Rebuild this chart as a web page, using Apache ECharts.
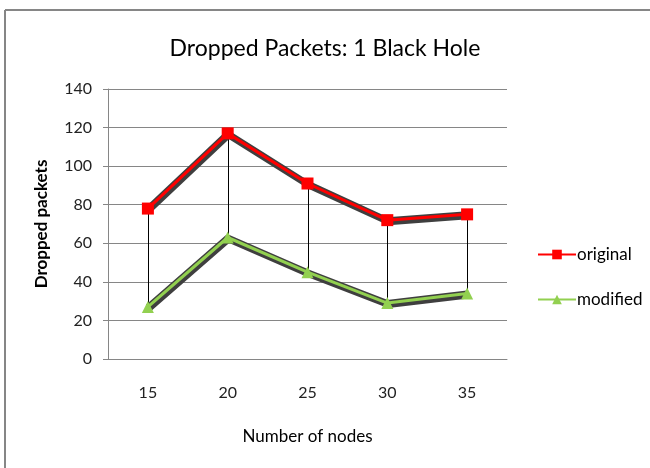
<!DOCTYPE html>
<html>
<head>
<meta charset="utf-8">
<script src="https://cdn.jsdelivr.net/npm/echarts@6/dist/echarts.min.js"></script>
<style>
  html, body { margin: 0; padding: 0; background: #fff; }
  #chart { width: 650px; height: 468px; }
</style>
</head>
<body>
<div id="chart"></div>
<script>
// Number of nodes on the x axis
const nodes = ['15', '20', '25', '30', '35'];
// Dropped packets with one black hole node
const original = [78, 117, 91, 72, 75];
const modified = [27, 63, 45, 29, 34];
// Value axis ticks
const yTicks = [0, 20, 40, 60, 80, 100, 120, 140];

const FONT = 'Lato';
const shadowLine = {
  width: 6,
  color: '#3f3f3f',
  shadowColor: '#3f3f3f',
  shadowBlur: 0,
  shadowOffsetX: 1,
  shadowOffsetY: 2
};

const chart = echarts.init(document.getElementById('chart'));
chart.setOption({
  animation: false,
  backgroundColor: '#fff',
  textStyle: { fontFamily: FONT },
  title: {
    text: 'Dropped Packets: 1 Black Hole',
    left: 'center',
    top: 32,
    textStyle: { fontFamily: FONT, fontSize: 23, fontWeight: 'normal', color: '#000' }
  },
  legend: {
    data: ['original', 'modified'],
    orient: 'vertical',
    left: 532,
    top: 241,
    itemWidth: 38,
    itemHeight: 12,
    itemGap: 28,
    textStyle: { fontFamily: FONT, fontSize: 17, color: '#000', padding: [0, 0, 0, -4] }
  },
  grid: { left: 108, right: 143, top: 89, bottom: 109 },
  xAxis: {
    type: 'category',
    data: nodes,
    boundaryGap: true,
    name: 'Number of nodes',
    nameLocation: 'middle',
    nameGap: 69,
    nameTextStyle: { fontFamily: FONT, fontSize: 17, color: '#000' },
    axisLine: { lineStyle: { color: '#868686', width: 1 } },
    axisTick: { show: false },
    axisLabel: { margin: 26, fontFamily: FONT, fontSize: 16, color: '#222' }
  },
  yAxis: {
    type: 'value',
    min: yTicks[0],
    max: yTicks[yTicks.length - 1],
    interval: yTicks[1] - yTicks[0],
    name: 'Dropped packets',
    nameLocation: 'middle',
    nameGap: 58,
    nameTextStyle: { fontFamily: FONT, fontSize: 17, fontWeight: 'bold', color: '#000' },
    axisLine: { show: true, lineStyle: { color: '#868686', width: 1 } },
    axisTick: { show: true, length: 5, lineStyle: { color: '#868686' } },
    splitLine: { lineStyle: { color: '#868686', width: 1 } },
    axisLabel: { margin: 16, fontFamily: FONT, fontSize: 16, color: '#222' }
  },
  graphic: [
    { type: 'line', shape: { x1: 5, y1: 10, x2: 650, y2: 10 }, style: { stroke: '#868686', lineWidth: 2 } },
    { type: 'line', shape: { x1: 5, y1: 10, x2: 5, y2: 468 }, style: { stroke: '#868686', lineWidth: 2 } }
  ],
  series: [
    // High-low connectors between the two series at each category
    {
      type: 'custom',
      silent: true,
      z: 1,
      data: nodes.map((n, i) => [i, original[i], modified[i]]),
      renderItem: function (params, api) {
        const top = api.coord([api.value(0), api.value(1)]);
        const bot = api.coord([api.value(0), api.value(2)]);
        return {
          type: 'line',
          shape: { x1: Math.round(top[0]) + 0.5, y1: top[1], x2: Math.round(bot[0]) + 0.5, y2: bot[1] },
          style: { stroke: '#000', lineWidth: 1 }
        };
      }
    },
    // Dark drop shadows beneath each line
    {
      name: 'original-shadow',
      type: 'line',
      data: original,
      symbol: 'none',
      silent: true,
      z: 2,
      lineStyle: shadowLine
    },
    {
      name: 'modified-shadow',
      type: 'line',
      data: modified,
      symbol: 'none',
      silent: true,
      z: 2,
      lineStyle: shadowLine
    },
    {
      name: 'original',
      type: 'line',
      data: original,
      z: 4,
      symbol: 'rect',
      symbolSize: 12,
      color: '#ff0000',
      itemStyle: { color: '#ff0000' },
      lineStyle: { color: '#ff0000', width: 3 }
    },
    {
      name: 'modified',
      type: 'line',
      data: modified,
      z: 4,
      symbol: 'triangle',
      symbolSize: 12,
      color: '#92d050',
      itemStyle: { color: '#92d050' },
      lineStyle: { color: '#92d050', width: 3 }
    }
  ]
});
</script>
</body>
</html>
